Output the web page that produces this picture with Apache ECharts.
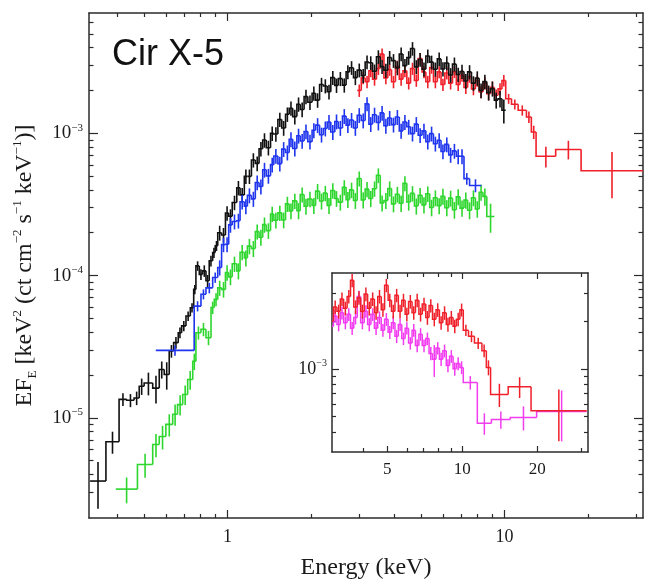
<!DOCTYPE html>
<html>
<head>
<meta charset="utf-8">
<script src="https://cdn.jsdelivr.net/npm/echarts@6.0.0/dist/echarts.min.js"></script>
<style>
html,body{margin:0;padding:0;background:#fff;}
#chart{width:647px;height:581px;}
</style>
</head>
<body>
<div id="chart"></div>
<script>
// ---------------- DATA ----------------
// shared energy grid (keV) of the densely binned part of the spectra (bin edges)
const denseEdges = [0.922,0.952,0.983,1.01,1.04,1.08,1.11,1.15,1.18,1.22,1.26,1.30,1.34,1.38,1.43,1.47,1.52,1.57,1.62,1.67,1.72,1.78,1.83,1.89,1.95,2.02,2.08,2.15,2.22,2.29,2.36,2.44,2.51,2.60,2.68,2.76,2.85,2.94,3.04,3.14,3.24,3.34,3.45,3.56,3.67,3.79,3.91,4.04,4.17,4.30,4.44,4.58,4.73,4.88,5.04,5.20,5.37,5.54,5.72,5.90,6.09,6.29,6.49,6.70,6.91,7.14,7.36,7.60,7.85,8.10,8.36,8.63,8.90,9.19,9.48,9.79,10.1];

// black spectrum
const blackLowEdges = [0.319,0.364,0.406,0.433,0.460,0.480,0.500,0.537,0.567,0.591,0.616,0.639,0.664,0.683,0.708,0.734,0.755,0.769,0.791,0.813,0.836,0.859,0.884,0.903];
const blackLowFlux = [3.6e-6,6.8e-6,1.35e-5,1.33e-5,1.38e-5,1.67e-5,1.76e-5,1.62e-5,2.19e-5,2.02e-5,2.95e-5,3.38e-5,3.97e-5,4.43e-5,5.2e-5,5.95e-5,8.0e-5,1.17e-4,1.02e-4,1.08e-4,9.2e-5,1.27e-4,1.45e-4,1.62e-4];
const blackLowErr = [1.3e-6,1.2e-6,1.4e-6,1.4e-6,1.5e-6,2.2e-6,3.2e-6,3.6e-6,3.0e-6,4.4e-6,3.0e-6,3.2e-6,3.4e-6,3.6e-6,4.0e-6,4.5e-6,6.0e-6,9.0e-6,9.0e-6,1.0e-5,9.0e-6,1.1e-5,1.2e-5,1.3e-5];
const blackFlux = [2.0e-4,1.93e-4,2.75e-4,2.61e-4,3.26e-4,4.14e-4,3.69e-4,4.98e-4,4.98e-4,6.49e-4,
  6.14e-4,7.78e-4,8.96e-4,7.92e-4,9.98e-4,9.88e-4,1.25e-3,1.09e-3,1.36e-3,1.5e-3,
  1.31e-3,1.6e-3,1.47e-3,1.81e-3,1.65e-3,1.91e-3,1.71e-3,2.2e-3,2.15e-3,1.96e-3,
  2.46e-3,2.17e-3,2.42e-3,2.18e-3,2.7e-3,2.89e-3,2.46e-3,2.78e-3,2.54e-3,3.17e-3,
  3.13e-3,2.73e-3,3.45e-3,2.94e-3,2.77e-3,3.41e-3,3.24e-3,2.88e-3,3.61e-3,2.99e-3,
  3.4e-3,3.94e-3,2.93e-3,3.3e-3,2.82e-3,3.49e-3,3.16e-3,2.82e-3,3.33e-3,2.83e-3,
  3.12e-3,2.57e-3,3.06e-3,2.59e-3,2.72e-3,2.33e-3,2.7e-3,2.25e-3,2.44e-3,2.0e-3,
  2.31e-3,1.93e-3,2.06e-3,1.71e-3,1.75e-3,1.45e-3];
const blackErr = [2.4e-5,2.3e-5,3.2e-5,3.1e-5,3.8e-5,4.8e-5,4.4e-5,5.8e-5,5.8e-5,7.5e-5,
  7.2e-5,9.0e-5,1.04e-4,9.4e-5,1.16e-4,1.16e-4,1.45e-4,1.3e-4,1.58e-4,1.74e-4,
  1.56e-4,1.85e-4,1.74e-4,2.1e-4,1.94e-4,2.2e-4,2.0e-4,2.5e-4,2.45e-4,2.3e-4,
  2.8e-4,2.5e-4,2.75e-4,2.5e-4,3.0e-4,3.2e-4,2.8e-4,3.1e-4,2.9e-4,3.5e-4,
  3.45e-4,3.1e-4,3.8e-4,3.3e-4,3.15e-4,3.75e-4,3.6e-4,3.25e-4,4.0e-4,3.35e-4,
  3.75e-4,4.3e-4,3.3e-4,3.65e-4,3.2e-4,3.85e-4,3.5e-4,3.2e-4,3.7e-4,3.2e-4,
  3.5e-4,3.0e-4,3.45e-4,3.0e-4,3.1e-4,2.75e-4,3.1e-4,2.65e-4,2.85e-4,2.4e-4,
  2.7e-4,2.35e-4,2.5e-4,2.2e-4,2.3e-4,2.8e-4];

// blue spectrum
const blueLowEdges = [0.551,0.758,0.802,0.836,0.884];
const blueHighEdges = [7.48,8.25];
const blueLowFlux = [2.98e-5,6.1e-5,7.4e-5,8.2e-5,9.7e-5];
const blueLowErr = [2.5e-6,5e-6,6e-6,7e-6,8e-6];
const blueFlux = [1.14e-4,1.65e-4,1.66e-4,2.27e-4,2.4e-4,2.43e-4,3.3e-4,3.07e-4,3.66e-4,3.46e-4,
  4.51e-4,4.23e-4,5.54e-4,5.02e-4,6.02e-4,6.93e-4,6.12e-4,7.74e-4,7.32e-4,9.07e-4,
  7.82e-4,9.61e-4,8.83e-4,1.03e-3,8.73e-4,1.05e-3,1.14e-3,9.77e-4,1.08e-3,1.2e-3,
  1.02e-3,1.21e-3,1.09e-3,1.32e-3,1.14e-3,1.24e-3,1.09e-3,1.34e-3,1.23e-3,1.61e-3,
  1.16e-3,1.35e-3,1.19e-3,1.39e-3,1.13e-3,1.28e-3,1.15e-3,1.3e-3,1.04e-3,1.2e-3,
  1.11e-3,9.94e-4,1.16e-3,9.69e-4,1.04e-3,8.74e-4,9.94e-4,8.45e-4,8.93e-4,7.45e-4,
  8.35e-4,7.05e-4,7.52e-4,6.89e-4,6.9e-4];
const blueErr = [1.4e-5,1.9e-5,2.0e-5,2.7e-5,2.9e-5,2.9e-5,3.9e-5,3.7e-5,4.4e-5,4.2e-5,
  5.4e-5,5.1e-5,6.6e-5,6.0e-5,7.2e-5,8.3e-5,7.3e-5,9.3e-5,8.8e-5,1.09e-4,
  9.4e-5,1.15e-4,1.06e-4,1.24e-4,1.05e-4,1.26e-4,1.37e-4,1.17e-4,1.3e-4,1.44e-4,
  1.22e-4,1.45e-4,1.31e-4,1.58e-4,1.37e-4,1.49e-4,1.31e-4,1.6e-4,1.48e-4,1.8e-4,
  1.39e-4,1.62e-4,1.43e-4,1.67e-4,1.36e-4,1.54e-4,1.38e-4,1.56e-4,1.25e-4,1.44e-4,
  1.33e-4,1.19e-4,1.39e-4,1.16e-4,1.25e-4,1.05e-4,1.19e-4,1.01e-4,1.07e-4,8.9e-5,
  1.0e-4,8.5e-5,9.0e-5,8.3e-5,8.3e-5];
const blueHighFlux = [4.8e-4,4.3e-4];
const blueHighErr = [4.5e-5,4.5e-5];

// green spectrum
const greenLowEdges = [0.395,0.473,0.537,0.567,0.599,0.634,0.660,0.689,0.718,0.749,0.769,0.802,0.836,0.872,0.896];
const greenHighEdges = [9.19];
const greenLowFlux = [3.16e-6,4.7e-6,6.5e-6,7.4e-6,9.0e-6,1.06e-5,1.24e-5,1.46e-5,1.86e-5,2.5e-5,3.97e-5,4.2e-5,3.66e-5,5.96e-5,6.8e-5];
const greenLowErr = [6.5e-7,9e-7,1.2e-6,1.4e-6,1.6e-6,1.8e-6,2.0e-6,2.3e-6,2.8e-6,3.3e-6,4.2e-6,4.5e-6,4.2e-6,6e-6,7e-6];
const greenFlux = [8.2e-5,8.0e-5,1.05e-4,9.8e-5,1.21e-4,1.08e-4,1.46e-4,1.33e-4,1.61e-4,1.55e-4,
  2.04e-4,1.86e-4,2.28e-4,2.07e-4,2.71e-4,2.45e-4,2.76e-4,2.46e-4,3.19e-4,2.85e-4,
  3.35e-4,2.86e-4,3.71e-4,3.07e-4,3.45e-4,3.11e-4,3.92e-4,3.34e-4,3.8e-4,3.11e-4,
  3.96e-4,3.48e-4,3.28e-4,4.17e-4,3.42e-4,4.0e-4,3.37e-4,4.81e-4,3.4e-4,4.05e-4,
  3.48e-4,4.08e-4,5.07e-4,3.24e-4,3.37e-4,4.09e-4,3.19e-4,3.73e-4,3.22e-4,4.45e-4,
  3.29e-4,3.78e-4,3.08e-4,3.67e-4,3.14e-4,3.76e-4,3.01e-4,3.52e-4,3.1e-4,3.61e-4,
  3.0e-4,3.5e-4,2.9e-4,3.58e-4,2.98e-4,3.39e-4,2.88e-4,3.52e-4,2.94e-4,3.85e-4,3.6e-4];
const greenErr = [1.0e-5,1.0e-5,1.3e-5,1.25e-5,1.5e-5,1.4e-5,1.8e-5,1.7e-5,2.0e-5,2.0e-5,
  2.5e-5,2.4e-5,2.8e-5,2.6e-5,3.3e-5,3.1e-5,3.4e-5,3.1e-5,3.9e-5,3.6e-5,
  4.1e-5,3.7e-5,4.5e-5,3.9e-5,4.3e-5,4.0e-5,4.8e-5,4.3e-5,4.7e-5,4.0e-5,
  4.9e-5,4.4e-5,4.2e-5,5.1e-5,4.4e-5,5.0e-5,4.3e-5,5.8e-5,4.4e-5,5.0e-5,
  4.5e-5,5.0e-5,6.0e-5,4.2e-5,4.3e-5,5.0e-5,4.1e-5,4.7e-5,4.2e-5,5.4e-5,
  4.3e-5,4.7e-5,4.0e-5,4.6e-5,4.1e-5,4.7e-5,4.0e-5,4.5e-5,4.0e-5,4.6e-5,
  3.9e-5,4.5e-5,3.9e-5,4.6e-5,3.9e-5,4.4e-5,3.9e-5,4.5e-5,3.9e-5,5.0e-5,5.0e-5];
const greenHighFlux = [2.6e-4];
const greenHighErr = [6e-5];

// red spectrum (main panel and inset)
const redHighEdges = [10.6,11.2,12.0,12.5,13.0,15.3,18.9,31.6];
const redFlux = [2.0e-3,2.45e-3,2.3e-3,2.75e-3,2.4e-3,2.85e-3,3.6e-3,2.45e-3,2.8e-3,2.3e-3,
  2.95e-3,2.4e-3,2.75e-3,2.25e-3,2.85e-3,2.35e-3,3.35e-3,2.7e-3,2.3e-3,2.9e-3,
  2.3e-3,2.7e-3,2.2e-3,2.65e-3,2.25e-3,2.7e-3,2.2e-3,2.55e-3,2.1e-3,2.5e-3,
  2.05e-3,2.35e-3,1.95e-3,2.25e-3,1.9e-3,2.1e-3,1.85e-3,2.05e-3,2.35e-3];
const redErr = [2.0e-4,2.4e-4,2.3e-4,2.7e-4,2.4e-4,2.8e-4,3.4e-4,2.4e-4,2.7e-4,2.3e-4,
  2.9e-4,2.4e-4,2.7e-4,2.2e-4,2.8e-4,2.3e-4,3.2e-4,2.6e-4,2.3e-4,2.8e-4,
  2.3e-4,2.6e-4,2.2e-4,2.6e-4,2.2e-4,2.6e-4,2.2e-4,2.5e-4,2.1e-4,2.4e-4,
  2.0e-4,2.3e-4,1.9e-4,2.2e-4,1.9e-4,2.1e-4,1.8e-4,2.0e-4,2.2e-4];
const redHighFlux = [1.75e-3,1.6e-3,1.45e-3,1.3e-3,1.02e-3,6.9e-4,7.7e-4,5.45e-4];
const redHighErr = [1.4e-4,1.3e-4,1.2e-4,1.2e-4,1.1e-4,1.15e-4,1.15e-4,1.95e-4];

// magenta spectrum (inset)
const magentaHighEdges = [11.5,13.1,15.6,19.9,31.6];
const magentaFlux = [1.85e-3,2.15e-3,1.9e-3,2.25e-3,1.95e-3,2.2e-3,1.8e-3,2.1e-3,2.85e-3,1.95e-3,
  2.3e-3,1.9e-3,2.2e-3,1.8e-3,2.1e-3,1.75e-3,2.05e-3,1.7e-3,1.95e-3,1.6e-3,
  1.9e-3,1.55e-3,1.8e-3,1.45e-3,1.75e-3,1.4e-3,1.65e-3,1.4e-3,1.55e-3,1.25e-3,
  1.15e-3,1.35e-3,1.15e-3,1.3e-3,1.05e-3,1.2e-3,1.0e-3,1.08e-3,1.02e-3];
const magentaErr = [1.8e-4,2.0e-4,1.8e-4,2.1e-4,1.8e-4,2.0e-4,1.7e-4,2.0e-4,2.4e-4,1.8e-4,
  2.1e-4,1.8e-4,2.0e-4,1.7e-4,1.9e-4,1.6e-4,1.9e-4,1.6e-4,1.8e-4,1.5e-4,
  1.7e-4,1.4e-4,1.6e-4,1.3e-4,1.6e-4,1.3e-4,1.5e-4,1.3e-4,1.4e-4,1.2e-4,
  2.6e-4,1.2e-4,1.1e-4,1.2e-4,1.0e-4,1.1e-4,9.5e-5,1.0e-4,9.5e-5];
const magentaHighFlux = [8.2e-4,4.55e-4,4.8e-4,4.95e-4,5.4e-4];
const magentaHighErr = [8e-5,7e-5,6e-5,8.5e-5,1.9e-4];

// tick values
const mainXMajor = [1, 10];
const mainXMinor = [0.4,0.5,0.6,0.7,0.8,0.9,2,3,4,5,6,7,8,9,20,30];
const mainYMajor = [1e-5, 1e-4, 1e-3];
const mainYMinor = [3e-6,4e-6,5e-6,6e-6,7e-6,8e-6,9e-6,2e-5,3e-5,4e-5,5e-5,6e-5,7e-5,8e-5,9e-5,2e-4,3e-4,4e-4,5e-4,6e-4,7e-4,8e-4,9e-4,2e-3,3e-3,4e-3,5e-3,6e-3];
const insetXLabels = [5, 10, 20];
const insetXMinor = [4,6,7,8,9,30];
const insetYMajor = [1e-3];
const insetYMinor = [4e-4,5e-4,6e-4,7e-4,8e-4,9e-4,2e-3,3e-3];

// ---------------- BUILD ----------------
const SERIF = '"Liberation Serif", "Times New Roman", serif';
const FRAME = '#2b2b2b';
const TXT = '#1a1a1a';
const COLORS = {black: '#111111', red: '#f0202a', blue: '#1f35ee', green: '#2ed62e', magenta: '#f23cf0'};

function bins(edges, flux, err) {
  const out = [];
  for (let i = 0; i < flux.length; i++) {
    const lo = edges[i], hi = edges[i + 1];
    const f = flux[i];
    const prev = i > 0 ? flux[i - 1] : f;
    out.push([Math.sqrt(lo * hi), f, lo, hi, Math.max(f - err[i], f * 0.05), f + err[i], prev]);
  }
  return out;
}

function makeRender(color, width) {
  return function (params, api) {
    const cs = params.coordSys;
    const x0 = cs.x, x1 = cs.x + cs.width, y0 = cs.y, y1 = cs.y + cs.height;
    const cx = v => Math.min(x1, Math.max(x0, v));
    const cy = v => Math.min(y1, Math.max(y0, v));
    const xc = api.value(0), f = api.value(1), lo = api.value(2), hi = api.value(3);
    const el = api.value(4), eh = api.value(5), fp = api.value(6);
    const pLo = api.coord([lo, f]), pHi = api.coord([hi, f]), pPrev = api.coord([lo, fp]);
    const pEl = api.coord([xc, el]), pEh = api.coord([xc, eh]);
    if (pHi[0] < x0 - 0.5 || pLo[0] > x1 + 0.5) return null;
    const style = {stroke: color, lineWidth: width, fill: null};
    const pts = [];
    if (pLo[0] >= x0) pts.push([pLo[0], cy(pPrev[1])]);
    pts.push([cx(pLo[0]), cy(pLo[1])], [cx(pHi[0]), cy(pHi[1])]);
    const children = [{type: 'polyline', shape: {points: pts}, style: style}];
    if (pEl[0] >= x0 && pEl[0] <= x1) {
      children.push({type: 'line', shape: {x1: pEl[0], y1: cy(pEl[1]), x2: pEh[0], y2: cy(pEh[1])}, style: style});
    }
    return {type: 'group', children: children};
  };
}

function specSeries(name, color, data, xi, yi, width) {
  return {
    type: 'custom', name: name, xAxisIndex: xi, yAxisIndex: yi,
    renderItem: makeRender(color, width), data: data, encode: {x: 0, y: 1},
    silent: true, animation: false
  };
}

function fmtNum(v) { return String(+Number(v).toPrecision(3)); }
function fmtPow(v) {
  const e = Math.round(Math.log10(v));
  return '10{s|' + (e < 0 ? '\u2212' + (-e) : e) + '}';
}

function mkAxis(grid, pos, min, max, ticks, len, showLine, label) {
  return {
    type: 'log', logBase: 10, gridIndex: grid, position: pos, min: min, max: max,
    splitLine: {show: false}, silent: true,
    axisLine: {show: showLine, onZero: false, lineStyle: {color: FRAME, width: 1.5}},
    axisTick: {show: true, inside: true, length: len, customValues: ticks, lineStyle: {color: FRAME, width: 1.2}},
    axisLabel: label ? label : {show: false}
  };
}

const xLabMain = {show: true, customValues: mainXMajor, formatter: fmtNum, fontFamily: SERIF, fontSize: 18, color: TXT, margin: 10};
const yLabMain = {show: true, customValues: mainYMajor, formatter: fmtPow, fontFamily: SERIF, fontSize: 19, color: TXT, margin: 6, lineHeight: 22,
  rich: {s: {fontFamily: SERIF, fontSize: 11, lineHeight: 11, verticalAlign: 'top', color: TXT}}};
const xLabInset = {show: true, customValues: insetXLabels, formatter: fmtNum, fontFamily: SERIF, fontSize: 17, color: TXT, margin: 9};
const yLabInset = {show: true, customValues: insetYMajor, formatter: fmtPow, fontFamily: SERIF, fontSize: 18, color: TXT, margin: 5, lineHeight: 21,
  rich: {s: {fontFamily: SERIF, fontSize: 10, lineHeight: 10, verticalAlign: 'top', color: TXT}}};

const MX = [0.3162, 31.62], MY = [1.98e-6, 7.0e-3];
const IX = [3.0, 32.0], IY = [3.0e-4, 4.0e-3];

const xAxes = [
  Object.assign(mkAxis(0, 'bottom', MX[0], MX[1], mainXMajor, 8, true, xLabMain), {
    name: 'Energy (keV)', nameLocation: 'middle', nameGap: 38,
    nameTextStyle: {fontFamily: SERIF, fontSize: 24, color: TXT}
  }),
  mkAxis(0, 'bottom', MX[0], MX[1], mainXMinor, 4, false, null),
  mkAxis(0, 'top', MX[0], MX[1], mainXMajor, 8, true, null),
  mkAxis(0, 'top', MX[0], MX[1], mainXMinor, 4, false, null),
  mkAxis(1, 'bottom', IX[0], IX[1], insetXLabels, 6, true, xLabInset),
  mkAxis(1, 'bottom', IX[0], IX[1], insetXMinor, 4, false, null),
  mkAxis(1, 'top', IX[0], IX[1], insetXLabels, 6, true, null),
  mkAxis(1, 'top', IX[0], IX[1], insetXMinor, 4, false, null)
];
const yAxes = [
  Object.assign(mkAxis(0, 'left', MY[0], MY[1], mainYMajor, 9, true, yLabMain), {
    name: 'EF{sub|E} [keV{sup|2} (ct cm{sup|\u22122} s{sup|\u22121} keV{sup|\u22121})]',
    nameLocation: 'middle', nameGap: 50, nameRotate: 90,
    nameTextStyle: {fontFamily: SERIF, fontSize: 24, color: TXT, lineHeight: 28,
      rich: {
        sub: {fontFamily: SERIF, fontSize: 13, lineHeight: 13, verticalAlign: 'bottom', color: TXT},
        sup: {fontFamily: SERIF, fontSize: 13, lineHeight: 13, verticalAlign: 'top', color: TXT}
      }}
  }),
  mkAxis(0, 'left', MY[0], MY[1], mainYMinor, 4.5, false, null),
  mkAxis(0, 'right', MY[0], MY[1], mainYMajor, 9, true, null),
  mkAxis(0, 'right', MY[0], MY[1], mainYMinor, 4.5, false, null),
  mkAxis(1, 'left', IY[0], IY[1], insetYMajor, 7, true, yLabInset),
  mkAxis(1, 'left', IY[0], IY[1], insetYMinor, 4, false, null),
  mkAxis(1, 'right', IY[0], IY[1], insetYMajor, 7, true, null),
  mkAxis(1, 'right', IY[0], IY[1], insetYMinor, 4, false, null)
];

const blackData = bins(blackLowEdges.concat(denseEdges), blackLowFlux.concat(blackFlux), blackLowErr.concat(blackErr));
const blueData = bins(blueLowEdges.concat(denseEdges.slice(0, 66), blueHighEdges),
  blueLowFlux.concat(blueFlux, blueHighFlux), blueLowErr.concat(blueErr, blueHighErr));
const greenData = bins(greenLowEdges.concat(denseEdges.slice(0, 72), greenHighEdges),
  greenLowFlux.concat(greenFlux, greenHighFlux), greenLowErr.concat(greenErr, greenHighErr));
const redData = bins(denseEdges.slice(37).concat(redHighEdges), redFlux.concat(redHighFlux), redErr.concat(redHighErr));
const magentaData = bins(denseEdges.slice(37).concat(magentaHighEdges), magentaFlux.concat(magentaHighFlux), magentaErr.concat(magentaHighErr));

const chart = echarts.init(document.getElementById('chart'), null, {renderer: 'canvas'});
chart.setOption({
  animation: false,
  backgroundColor: '#ffffff',
  grid: [
    {left: 89, top: 13, width: 554, height: 505, containLabel: false, outerBoundsMode: 'none'},
    {left: 332, top: 273, width: 256, height: 179, containLabel: false, outerBoundsMode: 'none',
      show: true, backgroundColor: '#ffffff', borderWidth: 0}
  ],
  xAxis: xAxes,
  yAxis: yAxes,
  graphic: [{
    type: 'text', x: 112, y: 55,
    style: {text: 'Cir X-5', font: '36px "Liberation Sans", Arial, sans-serif', fill: '#111', verticalAlign: 'middle', align: 'left'}
  }],
  series: [
    specSeries('red', COLORS.red, redData, 0, 0, 1.6),
    specSeries('black', COLORS.black, blackData, 0, 0, 1.6),
    specSeries('green', COLORS.green, greenData, 0, 0, 1.6),
    specSeries('blue', COLORS.blue, blueData, 0, 0, 1.6),
    specSeries('magenta', COLORS.magenta, magentaData, 4, 4, 1.5),
    specSeries('red inset', COLORS.red, redData, 4, 4, 1.5)
  ]
});
</script>
</body>
</html>
